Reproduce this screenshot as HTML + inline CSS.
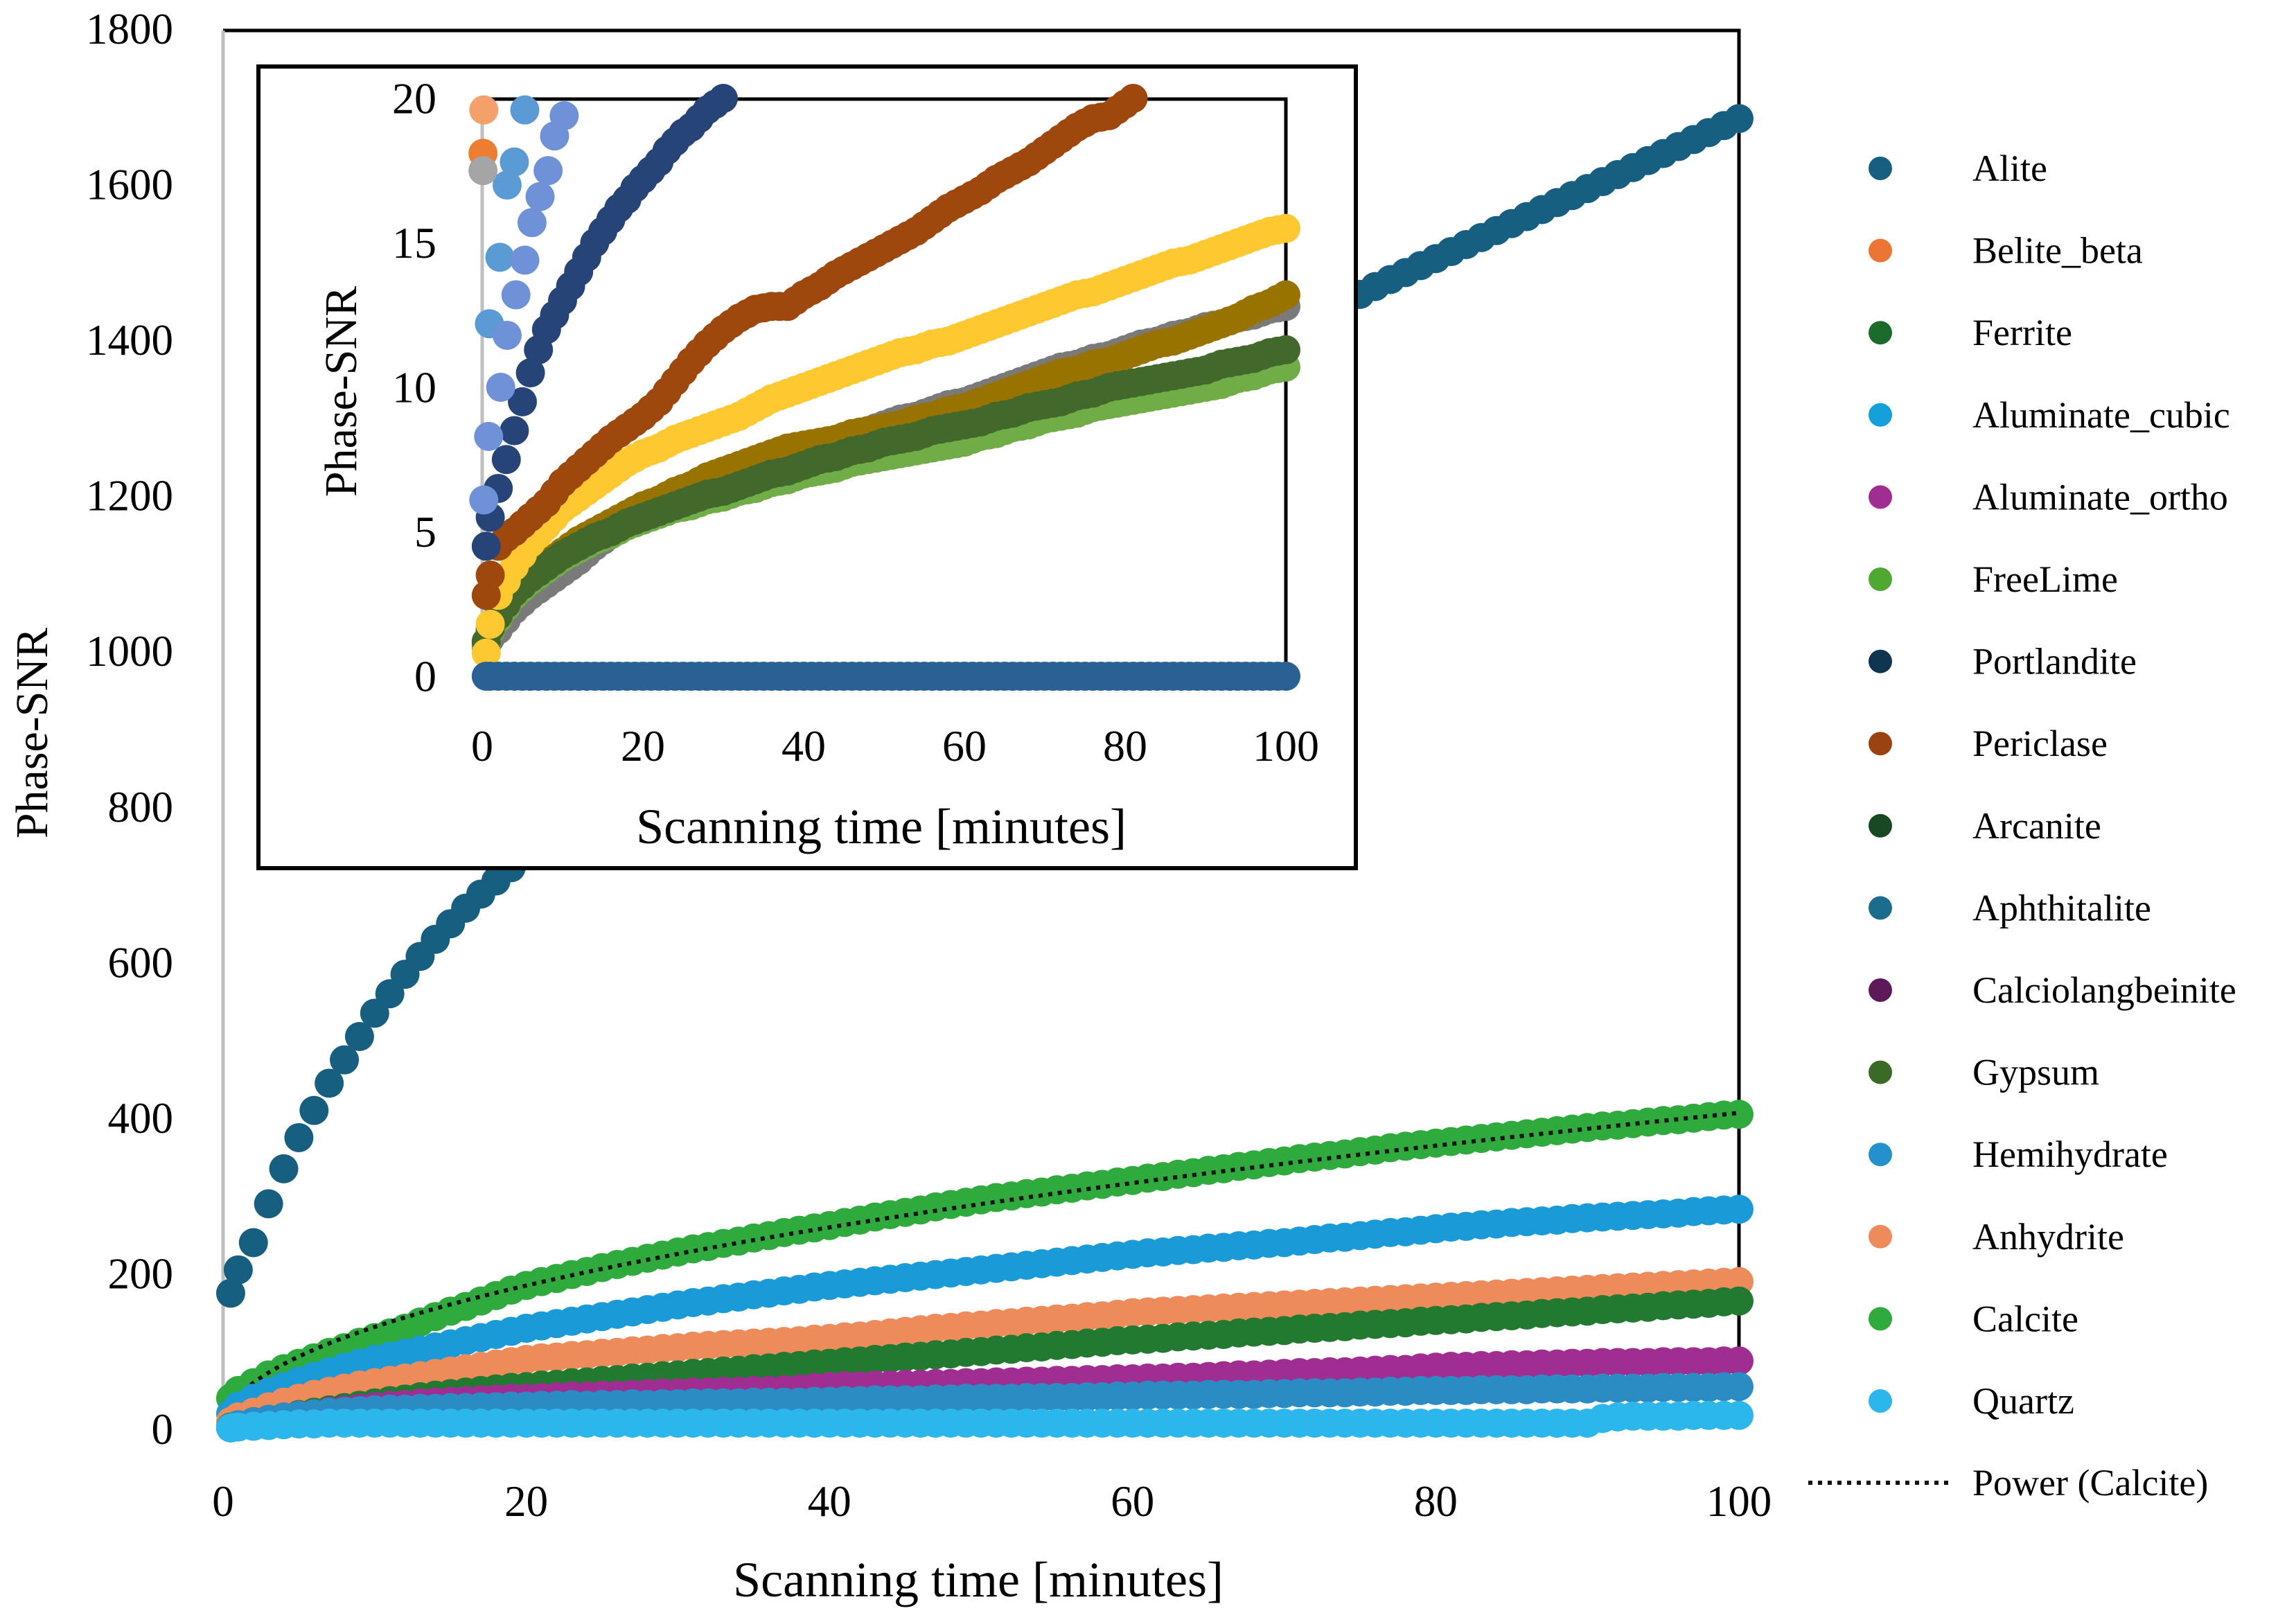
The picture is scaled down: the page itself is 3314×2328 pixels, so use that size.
<!DOCTYPE html>
<html><head><meta charset="utf-8">
<style>
html,body{margin:0;padding:0;background:#fff;}
svg{display:block;font-family:"Liberation Serif",serif;}
</style></head>
<body>
<svg id="chart" width="3314" height="2328" viewBox="0 0 3314 2328" xmlns="http://www.w3.org/2000/svg">
<g id="main"></g>
<g id="inset"></g>
<g id="legend"></g>
</svg>
<script>
const T2 = [0.5,2,4,6,8,10,12,14,16,18,20,22,24,26,28,30,32,34,36,38,40,42,44,46,48,50,52,54,56,58,60,62,64,66,68,70,72,74,76,78,80,82,84,86,88,90,92,94,96,98,100];
const T1 = [1,3,5,7,9,11,13,15,17,19,21,23,25,27,29,31,33,35,37,39,41,43,45,47,49,51,53,55,57,59,61,63,65,67,69,71,73,75,77,79,81,83,85,87,89,91,93,95,97,99];
const mainYTicks = [0,200,400,600,800,1000,1200,1400,1600,1800];
const mainXTicks = [0,20,40,60,80,100];
const insetYTicks = [0,5,10,15,20];
const insetXTicks = [0,20,40,60,80,100];

const aliteVals = [175,240,335,410,475,535,585,630,670,705,740,772,804,836,868,900,928,956,984,1012,1040,1066,1092,1118,1144,1170,1194,1218,1242,1266,1290,1313,1336,1359,1382,1405,1427,1449,1469,1487,1505,1523,1541,1559,1577,1595,1613,1631,1649,1667,1685];
const aliteOdd = [205,290,375,445,505,560,608,650,688,722,756,788,820,852,884,914,942,970,998,1026,1053,1079,1105,1131,1157,1182,1206,1230,1254,1278,1302,1325,1348,1371,1394,1416,1438,1459,1478,1496,1514,1532,1550,1568,1586,1604,1622,1640,1658,1676];
const calciteVals = [40,60,78,92,105,118,130,145,158,172,185,194,203,212,220,228,235,242,249,256,262,269,276,282,289,295,300,305,310,315,320,325,330,335,340,345,350,354,359,364,368,372,376,380,384,388,391,395,398,402,405];
const calciteOdd = [50,70,85,99,112,124,138,152,165,179,190,199,208,216,224,232,239,246,253,259,266,273,279,286,292,298,303,308,313,318,323,328,333,338,343,348,352,357,362,366,370,374,378,382,386,390,393,397,400,404];
const hemiVals = [20,40,55,68,80,90,98,106,114,122,130,136,142,148,154,160,165,170,175,180,185,189,193,197,201,205,209,213,217,221,225,228,231,234,237,240,244,247,251,254,258,261,264,267,269,272,274,276,278,281,283];
const hemiOdd = [30,48,62,74,85,94,102,110,118,126,133,139,145,151,157,163,168,173,178,183,187,191,195,199,203,207,211,215,219,223,227,230,233,236,239,242,246,249,253,256,260,263,266,268,271,273,275,277,280,282];
const anhyVals = [10,22,35,45,53,60,66,72,78,84,90,93,96,99,102,105,108,110,112,114,117,120,124,128,131,134,137,140,143,146,150,152,154,156,158,160,162,164,166,168,170,172,174,176,178,180,182,184,186,188,190];
const anhyOdd = [16,29,40,49,57,63,69,75,81,87,92,95,98,101,104,107,109,111,113,116,119,122,126,130,133,136,139,142,145,148,151,153,155,157,159,161,163,165,167,169,171,173,175,177,179,181,183,185,187,189];
const gypsumVals = [3,8,15,22,28,34,39,44,48,52,55,58,61,64,67,70,73,76,79,82,85,88,91,94,97,100,103,106,109,112,115,117,120,122,125,127,130,132,135,137,140,142,145,147,150,152,155,157,160,162,165];
const gypsumOdd = [5,12,19,25,31,37,42,46,50,54,57,60,63,66,69,72,75,78,81,84,87,90,93,96,99,102,105,108,111,114,116,119,121,124,126,129,131,134,136,139,141,144,146,149,151,154,156,159,161,164];
const orthoVals = [2,8,15,20,25,29,32,35,37,39,40,42,43,44,46,47,48,49,50,52,55,56,57,58,59,60,61,62,63,64,65,66,67,69,70,72,73,74,76,77,80,81,82,83,84,85,86,86,87,87,88];
const orthoOdd = [5,12,18,23,27,31,34,36,38,40,41,43,44,45,47,48,49,50,51,54,56,57,58,59,60,61,62,63,64,65,66,67,68,70,71,73,74,75,77,79,81,82,83,84,85,86,86,87,87,88];
const aphthVals = [2,10,16,20,23,25,26,27,28,29,30,31,31,32,32,33,34,34,35,35,36,37,38,38,39,40,40,41,41,42,43,44,44,45,45,46,47,47,48,49,50,50,51,51,52,52,53,53,54,54,55];
const aphthOdd = [6,13,18,22,24,26,27,28,29,30,31,32,32,33,33,34,34,35,35,36,37,38,38,39,40,40,41,41,42,43,44,44,45,45,46,47,47,48,49,50,50,51,51,52,52,53,53,54,54,55];
const quartzVals = [2,4,6,7,8,8,8,8,8,8,8,8,8,8,8,8,8,8,8,8,8,8,8,8,8,8,8,8,8,8,8,8,8,8,8,8,8,8,8,8,8,8,8,8,8,8,16,17,17,18,18];
const quartzOdd = [3,5,7,8,8,8,8,8,8,8,8,8,8,8,8,8,8,8,8,8,8,8,8,8,8,8,8,8,8,8,8,8,8,8,8,8,8,8,8,8,8,8,8,8,8,14,17,17,18,18];
const calcitePowerA = 42.6, calcitePowerB = 0.49;

const inZeroVals = [0,0,0,0,0,0,0,0,0,0,0,0,0,0,0,0,0,0,0,0,0,0,0,0,0,0,0,0,0,0,0,0,0,0,0,0,0,0,0,0,0,0,0,0,0,0,0,0,0,0,0];
const inZeroOdd = [0,0,0,0,0,0,0,0,0,0,0,0,0,0,0,0,0,0,0,0,0,0,0,0,0,0,0,0,0,0,0,0,0,0,0,0,0,0,0,0,0,0,0,0,0,0,0,0,0,0];
const inYellowVals = [0.8,2.8,3.8,4.6,5.2,5.8,6.2,6.6,7.0,7.4,7.7,7.9,8.2,8.4,8.6,8.8,9.0,9.3,9.6,9.8,10.0,10.2,10.4,10.6,10.8,11.0,11.2,11.3,11.5,11.6,11.8,12.0,12.2,12.4,12.6,12.8,13.0,13.2,13.3,13.5,13.7,13.9,14.1,14.3,14.4,14.6,14.8,15.0,15.2,15.4,15.5];
const inYellowOdd = [1.8,3.3,4.2,4.9,5.5,6.0,6.4,6.8,7.2,7.55,7.8,8.05,8.3,8.5,8.7,8.9,9.15,9.45,9.7,9.9,10.1,10.3,10.5,10.7,10.9,11.1,11.25,11.4,11.55,11.7,11.9,12.1,12.3,12.5,12.7,12.9,13.1,13.25,13.4,13.6,13.8,14.0,14.2,14.35,14.5,14.7,14.9,15.1,15.3,15.45];
const inOliveVals = [1.2,2.0,2.8,3.4,3.9,4.3,4.7,5.0,5.3,5.6,5.9,6.1,6.4,6.6,6.9,7.1,7.3,7.5,7.7,7.9,8.0,8.1,8.2,8.4,8.5,8.6,8.7,8.9,9.0,9.2,9.3,9.5,9.7,9.9,10.1,10.3,10.5,10.6,10.8,10.9,11.1,11.3,11.5,11.6,11.8,12.0,12.2,12.4,12.7,12.9,13.2];
const inOliveOdd = [1.6,2.4,3.1,3.65,4.1,4.5,4.85,5.15,5.45,5.75,6.0,6.25,6.5,6.75,7.0,7.2,7.4,7.6,7.8,7.95,8.05,8.15,8.3,8.45,8.55,8.65,8.8,8.95,9.1,9.25,9.4,9.6,9.8,10.0,10.2,10.4,10.55,10.7,10.85,11.0,11.2,11.4,11.55,11.7,11.9,12.1,12.3,12.55,12.8,13.05];
const inGreyVals = [1.0,1.6,2.3,2.8,3.2,3.6,4.0,4.5,4.9,5.2,5.5,5.8,6.1,6.4,6.7,6.9,7.1,7.2,7.4,7.5,7.7,7.9,8.1,8.3,8.5,8.7,8.9,9.0,9.2,9.4,9.5,9.7,9.9,10.1,10.3,10.5,10.7,10.8,11.0,11.1,11.3,11.5,11.6,11.8,11.9,12.1,12.2,12.4,12.5,12.7,12.8];
const inGreyOdd = [1.3,1.95,2.55,3.0,3.4,3.8,4.25,4.7,5.05,5.35,5.65,5.95,6.25,6.55,6.8,7.0,7.15,7.3,7.45,7.6,7.8,8.0,8.2,8.4,8.6,8.8,8.95,9.1,9.3,9.45,9.6,9.8,10.0,10.2,10.4,10.6,10.75,10.9,11.05,11.2,11.4,11.55,11.7,11.85,12.0,12.15,12.3,12.45,12.6,12.75];
const inDkGreenVals = [1.2,2.1,2.9,3.4,3.8,4.2,4.5,4.8,5.0,5.3,5.5,5.7,5.9,6.1,6.3,6.4,6.6,6.8,7.0,7.1,7.3,7.5,7.6,7.8,7.9,8.1,8.2,8.3,8.5,8.6,8.7,8.8,9.0,9.1,9.3,9.4,9.5,9.7,9.8,10.0,10.1,10.2,10.3,10.4,10.5,10.6,10.8,10.9,11.0,11.2,11.3];
const inDkGreenOdd = [1.65,2.5,3.15,3.6,4.0,4.35,4.65,4.9,5.15,5.4,5.6,5.8,6.0,6.2,6.35,6.5,6.7,6.9,7.05,7.2,7.4,7.55,7.7,7.85,8.0,8.15,8.25,8.4,8.55,8.65,8.75,8.9,9.05,9.2,9.35,9.45,9.6,9.75,9.9,10.05,10.15,10.25,10.35,10.45,10.55,10.7,10.85,10.95,11.1,11.25];
const inLtGreenVals = [1.1,2.0,2.8,3.3,3.7,4.1,4.4,4.7,4.9,5.2,5.4,5.6,5.8,5.9,6.1,6.2,6.4,6.5,6.7,6.8,7.0,7.1,7.2,7.4,7.5,7.6,7.7,7.8,7.9,8.0,8.1,8.3,8.4,8.6,8.7,8.9,9.0,9.1,9.3,9.4,9.5,9.6,9.7,9.8,9.9,10.0,10.1,10.3,10.4,10.6,10.7];
const inLtGreenOdd = [1.55,2.4,3.05,3.5,3.9,4.25,4.55,4.8,5.05,5.3,5.5,5.7,5.85,6.0,6.15,6.3,6.45,6.6,6.75,6.9,7.05,7.15,7.3,7.45,7.55,7.65,7.75,7.85,7.95,8.05,8.2,8.35,8.5,8.65,8.8,8.95,9.05,9.2,9.35,9.45,9.55,9.65,9.75,9.85,9.95,10.05,10.2,10.35,10.5,10.65];
const inBrownT = [0.5,2,4,6,8,10,12,14,16,18,20,22,24,26,28,30,32,34,36,38,40,42,44,46,48,50,52,54,56,58,60,62,64,66,68,70,72,74,76,78,80];
const inBrownVals = [2.8,4.5,5.0,5.5,6.0,6.7,7.2,7.7,8.2,8.6,9.0,9.5,10.2,10.9,11.5,12.0,12.4,12.7,12.8,12.8,13.2,13.5,13.9,14.2,14.5,14.8,15.1,15.4,15.8,16.2,16.5,16.8,17.2,17.5,17.8,18.2,18.6,19.0,19.3,19.4,19.8];
const inBrownT1 = [1,3,5,7,9,11,13,15,17,19,21,23,25,27,29,31,33,35,37,39,41,43,45,47,49,51,53,55,57,59,61,63,65,67,69,71,73,75,77,79,81];
const inBrownOdd = [3.5,4.8,5.25,5.75,6.35,6.95,7.45,7.95,8.4,8.8,9.25,9.85,10.55,11.2,11.75,12.2,12.55,12.75,12.8,13.0,13.35,13.7,14.05,14.35,14.65,14.95,15.25,15.6,16.0,16.35,16.65,17.0,17.35,17.65,18.0,18.4,18.8,19.15,19.35,19.6,20.0];
const inNavyT = [0.5,1,2,3,4,5,6,7,8,9,10,11,12,13,14,15,16,17,18,19,20,21,22,23,24,25,26,27,28,29,30];
const inNavyVals = [4.5,5.5,6.5,7.5,8.5,9.5,10.5,11.3,12,12.5,13,13.5,14,14.5,15,15.4,15.8,16.2,16.5,16.9,17.2,17.5,17.8,18.2,18.5,18.8,19,19.3,19.6,19.8,20];
const inBlue1T = [0.9,2.2,3.1,4.0,5.3];
const inBlue1Vals = [12.2,14.5,17.0,17.8,19.6];
const inBlue2T = [0.2,0.8,2.3,3.1,4.2,5.3,6.2,7.2,8.2,9.0,10.2];
const inBlue2Vals = [6.1,8.3,10.0,11.8,13.2,14.4,15.7,16.6,17.5,18.7,19.4];
const inEarlyT = [0.2,0.1,0.1];
const inEarlyVals = [19.6,18.1,17.5];

const legendNames = ["Alite","Belite_beta","Ferrite","Aluminate_cubic","Aluminate_ortho","FreeLime","Portlandite","Periclase","Arcanite","Aphthitalite","Calciolangbeinite","Gypsum","Hemihydrate","Anhydrite","Calcite","Quartz"];
const legendColors = ["#175f80","#ec7434","#1b6b2c","#14a0db","#a02e92","#4ea832","#0f3550","#9c4210","#174a24","#1c6c8e","#5e1a58","#3b6a26","#2490cd","#ee8b5b","#2eab3c","#2bb7ec"];

const NS="http://www.w3.org/2000/svg";
function el(tag, attrs, parent){const e=document.createElementNS(NS,tag);for(const k in attrs)e.setAttribute(k,attrs[k]);parent.appendChild(e);return e;}

const mX = t => 322 + t*(2510-322)/100;
const mY = v => 2063 - v*(2063-42)/1800;
const iX = t => 696 + t*(1856-696)/100;
const iY = v => 976 - v*(976-142)/20;

const main=document.getElementById('main');
const frame=el('path',{d:`M322,44 H2510 V2063`,fill:'none',stroke:'#000','stroke-width':5},main);


const yax=el('line',{x1:322,y1:44,x2:322,y2:2063,stroke:'#bfbfbf','stroke-width':5},main);



mainYTicks.forEach(v=>{const t=el('text',{x:250,y:mY(v),'text-anchor':'end','dominant-baseline':'central','font-size':63},main);t.textContent=v;

});
mainXTicks.forEach(v=>{const t=el('text',{x:mX(v),y:2188,'text-anchor':'middle','font-size':63},main);t.textContent=v;

});
const mxt=el('text',{x:1412,y:2304,'text-anchor':'middle','font-size':72},main);mxt.textContent='Scanning time [minutes]';


const myt=el('text',{x:0,y:0,'text-anchor':'middle','font-size':66,transform:'translate(68,1058) rotate(-90)'},main);myt.textContent='Phase-SNR';



function series(g, ts, vals, color, X, Y, r, name){
  const sg=el('g',{fill:color},g);
  
  
  for(let i=0;i<vals.length;i++){
    const c=el('circle',{cx:X(ts[i]),cy:Y(vals[i]),r:r},sg);
    
    
  }
}
function both(g, ta, va, tb, vb, color, X, Y, r, name){
  const ts=[], vs=[];
  for(let i=0;i<ta.length;i++){ts.push(ta[i]);vs.push(va[i]); if(i<tb.length){ts.push(tb[i]);vs.push(vb[i]);}}
  series(g, ts, vs, color, X, Y, r, name);
}
both(main,T2,aliteVals,T1,aliteOdd,legendColors[0],mX,mY,21,'alite-series');
both(main,T2,calciteVals,T1,calciteOdd,legendColors[14],mX,mY,21,'calcite-series');
let d='';for(let t=0.5;t<=100.01;t+=0.5){d+=(d?'L':'M')+mX(t).toFixed(1)+','+mY(calcitePowerA*Math.pow(t,calcitePowerB)).toFixed(1);}
const tl=el('path',{d:d,fill:'none',stroke:'#111','stroke-width':6,'stroke-dasharray':'6 8'},main);


both(main,T2,hemiVals,T1,hemiOdd,'#1a9ad6',mX,mY,21,'hemihydrate-series');
both(main,T2,anhyVals,T1,anhyOdd,legendColors[13],mX,mY,21,'anhydrite-series');
both(main,T2,gypsumVals,T1,gypsumOdd,'#217a2f',mX,mY,21,'ferrite-series');
both(main,T2,orthoVals,T1,orthoOdd,legendColors[4],mX,mY,21,'aluminate-ortho-series');
both(main,T2,aphthVals,T1,aphthOdd,'#2a8cc2',mX,mY,21,'aphthitalite-series');
both(main,T2,quartzVals,T1,quartzOdd,legendColors[15],mX,mY,21,'quartz-series');

const inset=document.getElementById('inset');
const ib=el('rect',{x:373,y:96,width:1584,height:1157,fill:'#fff',stroke:'#000','stroke-width':6},inset);


const ifr=el('path',{d:'M696,143 H1856 V976',fill:'none',stroke:'#000','stroke-width':5},inset);


const iya=el('line',{x1:696,y1:143,x2:696,y2:976,stroke:'#bfbfbf','stroke-width':5},inset);


insetYTicks.forEach(v=>{const t=el('text',{x:630,y:iY(v),'text-anchor':'end','dominant-baseline':'central','font-size':64},inset);t.textContent=v;

});
insetXTicks.forEach(v=>{const t=el('text',{x:iX(v),y:1098,'text-anchor':'middle','font-size':64},inset);t.textContent=v;

});
const ixt=el('text',{x:1272,y:1217,'text-anchor':'middle','font-size':72},inset);ixt.textContent='Scanning time [minutes]';


const iyt=el('text',{x:0,y:0,'text-anchor':'middle','font-size':66,transform:'translate(514,565) rotate(-90)'},inset);iyt.textContent='Phase-SNR';



both(inset,T2,inGreyVals,T1,inGreyOdd,'#7a7a7a',iX,iY,21,'inset-grey-series');
both(inset,T2,inOliveVals,T1,inOliveOdd,'#997300',iX,iY,21,'inset-olive-series');
both(inset,T2,inLtGreenVals,T1,inLtGreenOdd,'#70ad47',iX,iY,21,'inset-lightgreen-series');
both(inset,T2,inDkGreenVals,T1,inDkGreenOdd,'#43682b',iX,iY,21,'inset-darkgreen-series');
both(inset,T2,inYellowVals,T1,inYellowOdd,'#fdc830',iX,iY,21,'inset-yellow-series');
both(inset,inBrownT,inBrownVals,inBrownT1,inBrownOdd,'#9e480e',iX,iY,21,'inset-brown-series');
series(inset,inNavyT,inNavyVals,'#264478',iX,iY,21,'inset-navy-series');
series(inset,inBlue1T,inBlue1Vals,'#5b9bd5',iX,iY,21,'inset-blue1-series');
series(inset,inBlue2T,inBlue2Vals,'#6f91d8',iX,iY,21,'inset-blue2-series');
series(inset,[inEarlyT[0]],[inEarlyVals[0]],'#f4a06a',iX,iY,21,'inset-anhydrite-points');
series(inset,[inEarlyT[1]],[inEarlyVals[1]],'#ed7d31',iX,iY,21,'inset-belite-points');
series(inset,[inEarlyT[2]],[inEarlyVals[2]],'#a5a5a5',iX,iY,21,'inset-grey-points');
both(inset,T2,inZeroVals,T1,inZeroOdd,'#2a6195',iX,iY,21,'inset-zero-series');

const lg=document.getElementById('legend');
legendNames.forEach((n,i)=>{
  const y=243+i*118.6;
  const g=el('g',{},lg);
  
  
  el('circle',{cx:2714,cy:y,r:17,fill:legendColors[i]},g);
  const t=el('text',{x:2847,y:y,'dominant-baseline':'central','font-size':54},g);t.textContent=n;
});
const pg=el('g',{},lg);


el('line',{x1:2610,y1:2140,x2:2820,y2:2140,stroke:'#111','stroke-width':6,'stroke-dasharray':'6 8'},pg);
const pt=el('text',{x:2847,y:2140,'dominant-baseline':'central','font-size':54},pg);pt.textContent='Power (Calcite)';
</script>
</body></html>
